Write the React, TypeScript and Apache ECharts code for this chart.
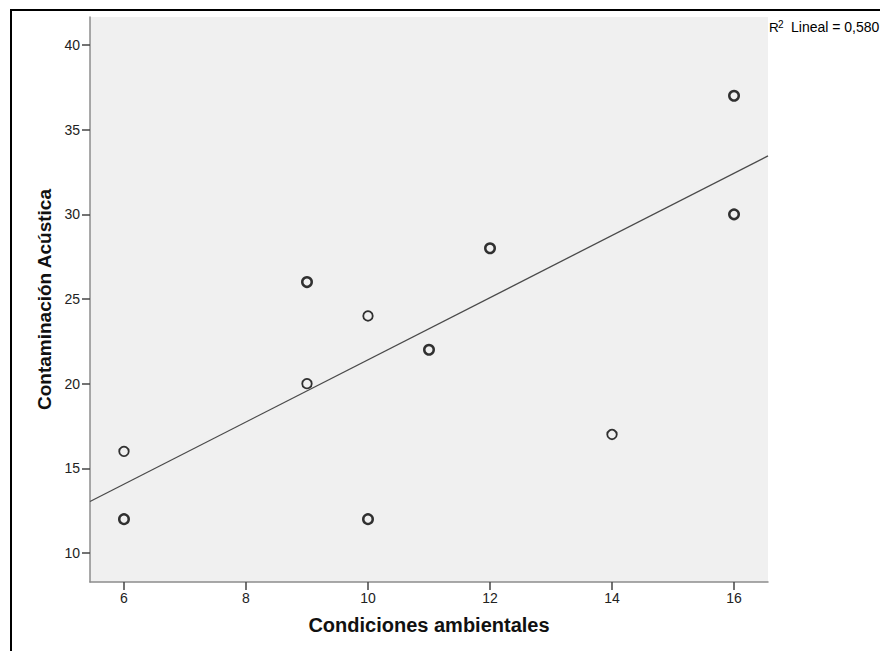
import React, { useEffect, useRef } from "react";
import * as echarts from "echarts";

// Observed cases: Condiciones ambientales (x) vs Contaminación Acústica (y)
const xValues = [6, 6, 9, 9, 10, 10, 11, 12, 14, 16, 16];
const yValues = [16, 12, 26, 20, 24, 12, 22, 28, 17, 37, 30];
// Number of cases sharing each position (overlaps are drawn heavier)
const caseCounts = [1, 2, 2, 1, 1, 2, 2, 2, 1, 2, 2];

// Linear fit
const fitIntercept = 3.05;
const fitSlope = 1.836;
const rSquaredText = "0,580";

// Axis extents and tick labels
const xMin = 5.443;
const xMax = 16.557;
const yMin = 8.287;
const yMax = 41.654;
const xTicks = [6, 8, 10, 12, 14, 16];
const yTicks = [10, 15, 20, 25, 30, 35, 40];

const FONT = "'Liberation Sans', Arial, Helvetica, sans-serif";

export default function App() {
  const ref = useRef<HTMLDivElement>(null);

  useEffect(() => {
    if (!ref.current) return;
    const chart = echarts.init(ref.current, null, { renderer: "svg" });

    const fitLine = [xMin, xMax].map((x) => [x, fitIntercept + fitSlope * x]);

    chart.setOption({
      animation: false,
      backgroundColor: "#ffffff",
      grid: {
        left: 90,
        right: 112,
        top: 17,
        bottom: 69,
        show: true,
        backgroundColor: "#f0f0f0",
        borderWidth: 0,
      },
      xAxis: {
        type: "value",
        min: xMin,
        max: xMax,
        name: "Condiciones ambientales",
        nameLocation: "middle",
        nameGap: 33,
        nameTextStyle: { fontFamily: FONT, fontSize: 20, fontWeight: "bold", color: "#111" },
        axisLine: { show: true, onZero: false, lineStyle: { color: "#8c8c8c", width: 1.5 } },
        axisTick: { show: true, length: 8, customValues: xTicks, lineStyle: { color: "#444", width: 1.5 } },
        axisLabel: { customValues: xTicks, margin: 9, fontFamily: FONT, fontSize: 14, color: "#222" },
        splitLine: { show: false },
      },
      yAxis: {
        type: "value",
        min: yMin,
        max: yMax,
        name: "Contaminación Acústica",
        nameLocation: "middle",
        nameGap: 34,
        nameTextStyle: { fontFamily: FONT, fontSize: 19, fontWeight: "bold", color: "#111" },
        axisLine: { show: true, onZero: false, lineStyle: { color: "#8c8c8c", width: 1.5 } },
        axisTick: { show: true, length: 8, customValues: yTicks, lineStyle: { color: "#444", width: 1.5 } },
        axisLabel: { customValues: yTicks, margin: 10, fontFamily: FONT, fontSize: 14, color: "#222" },
        splitLine: { show: false },
      },
      series: [
        {
          type: "line",
          data: fitLine,
          symbol: "none",
          clip: true,
          lineStyle: { color: "#4a4a4a", width: 1.3 },
          z: 2,
        },
        {
          type: "scatter",
          symbol: "circle",
          symbolSize: 9.5,
          z: 3,
          data: xValues.map((x, i) => ({
            value: [x, yValues[i]],
            itemStyle: {
              color: "rgba(0,0,0,0)",
              borderColor: "#000",
              borderWidth: caseCounts[i] > 1 ? 2.5 : 1.8,
            },
          })),
        },
      ],
      graphic: [
        {
          type: "rect",
          shape: { x: 11, y: 10, width: 1000, height: 1000 },
          style: { fill: "none", stroke: "#000", lineWidth: 2 },
          silent: true,
        },
        {
          type: "text",
          x: 769,
          y: 20,
          style: { text: "R", fontFamily: FONT, fontSize: 13.5, fill: "#000" },
        },
        {
          type: "text",
          x: 778,
          y: 19,
          style: { text: "2", fontFamily: FONT, fontSize: 10, fill: "#000" },
        },
        {
          type: "text",
          x: 791,
          y: 20,
          style: { text: "Lineal = " + rSquaredText, fontFamily: FONT, fontSize: 14, fill: "#000" },
        },
      ],
    });

    return () => chart.dispose();
  }, []);

  return (
    <div
      ref={ref}
      style={{ position: "fixed", left: 0, top: 0, width: 880, height: 651, background: "#fff" }}
    />
  );
}
